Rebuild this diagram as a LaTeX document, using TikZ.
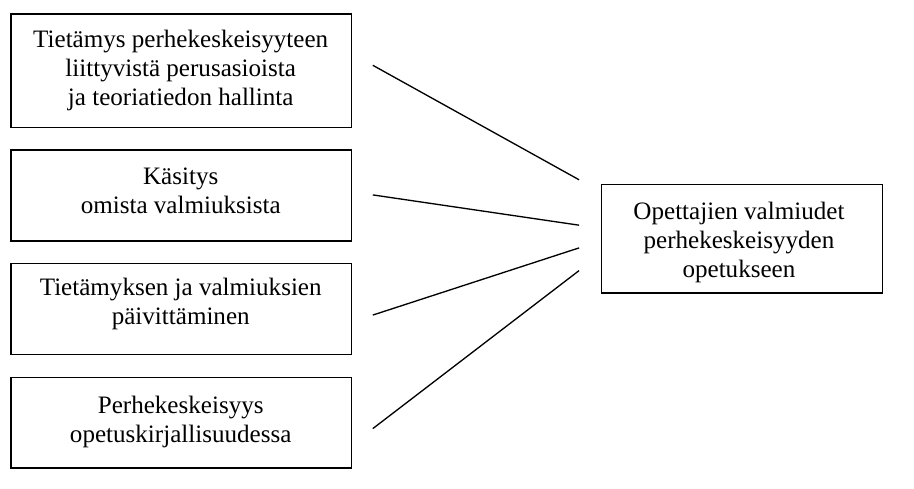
\documentclass[tikz,border=0pt]{standalone}
\usepackage{fontspec}
\setmainfont{Liberation Serif}
\begin{document}
\begin{tikzpicture}[x=1pt,y=-1pt,
  box/.style={draw, line width=1.4pt, rectangle, inner sep=0pt, anchor=north west},
  lbl/.style={anchor=north, align=center, inner sep=0pt, font=\fontsize{26.5}{30.5}\selectfont},
  conn/.style={line width=1.4pt}]
\useasboundingbox (0,0) rectangle (966,516);
% left boxes
\node[box, minimum width=360pt, minimum height=120pt] (b1) at (11,14) {};
\node[box, minimum width=360pt, minimum height=96pt] (b2) at (11,158) {};
\node[box, minimum width=360pt, minimum height=96pt] (b3) at (11,278) {};
\node[box, minimum width=360pt, minimum height=96pt] (b4) at (11,398) {};
% right box
\node[box, minimum width=297pt, minimum height=115pt] (r) at (635,194) {};
% labels
\node[lbl] (t1) at (191,28.6) {\strut Tietämys perhekeskeisyyteen\\\strut liittyvistä perusasioista\\\strut ja teoriatiedon hallinta};
\node[lbl] (t2) at (191,173.6) {\strut Käsitys\\\strut omista valmiuksista};
\node[lbl] (t3) at (191,290.6) {\strut Tietämyksen ja valmiuksien\\\strut päivittäminen};
\node[lbl] (t4) at (191,415.6) {\strut Perhekeskeisyys\\\strut opetuskirjallisuudessa};
\node[lbl] (tr) at (781,210.6) {\strut Opettajien valmiudet\\\strut perhekeskeisyyden\\\strut opetukseen};
% connector ends
\coordinate (s1) at (394,69);
\coordinate (s2) at (394,206);
\coordinate (s3) at (394,333);
\coordinate (s4) at (394,453);
\coordinate (e1) at (612,190);
\coordinate (e2) at (612,238);
\coordinate (e3) at (612,262);
\coordinate (e4) at (612,286);
\draw[conn] (s1) -- (e1);
\draw[conn] (s2) -- (e2);
\draw[conn] (s3) -- (e3);
\draw[conn] (s4) -- (e4);
\end{tikzpicture}
\end{document}
